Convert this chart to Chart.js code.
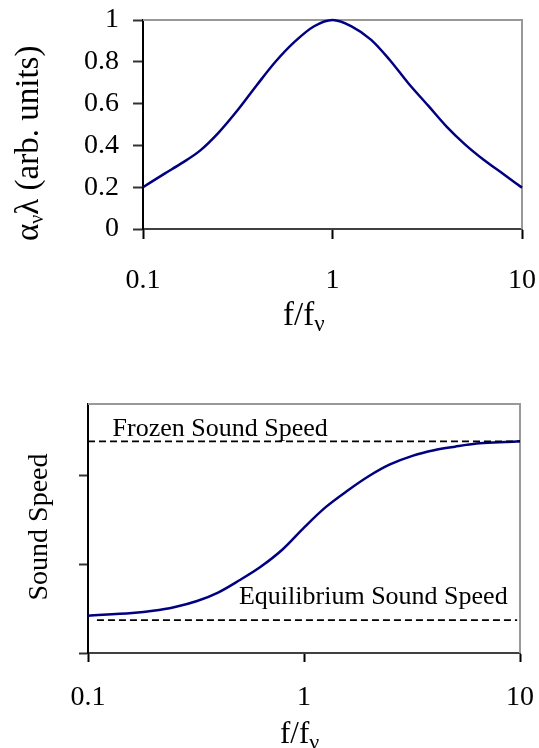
<!DOCTYPE html>
<html><head><meta charset="utf-8">
<script src="https://cdn.jsdelivr.net/npm/chart.js@4/dist/chart.umd.min.js"></script>
<style>
html,body{margin:0;padding:0;background:#fff;width:539px;height:748px;overflow:hidden}
#w1{position:absolute;left:0;top:0;width:539px;height:350px}
#w2{position:absolute;left:0;top:375px;width:539px;height:373px}
</style></head><body>
<div id="w1"><canvas id="c1"></canvas></div>
<div id="w2"><canvas id="c2"></canvas></div>
<script>
// ---- data ----
const xTickValues = [0.1, 1, 10];
const xTickLabels = ['0.1', '1', '10'];
const yTickLabelsTop = ['0', '0.2', '0.4', '0.6', '0.8', '1'];

const fRatioTop = [0.1,0.13,0.16,0.2,0.25,0.32,0.4,0.5,0.63,0.8,1,1.26,1.6,2,2.5,3.2,4,5,6.3,8,10];
const attenuation = [0.20,0.265,0.315,0.375,0.46,0.575,0.69,0.80,0.895,0.97,1.0,0.97,0.905,0.81,0.70,0.59,0.49,0.405,0.33,0.262,0.198];

const fRatioBottom = [0.1,0.16,0.2,0.25,0.32,0.4,0.5,0.63,0.8,1,1.26,1.6,2,2.5,3.2,4,5,6.3,8,10];
const soundSpeed = [0.42,0.45,0.475,0.515,0.585,0.68,0.815,0.97,1.17,1.41,1.64,1.83,1.99,2.12,2.22,2.28,2.32,2.355,2.37,2.38];
const frozenX = [0.1, 10];
const frozenSpeed = [2.38, 2.38];
const equilibriumX = [0.11, 9.7];
const equilibriumSpeed = [0.37, 0.37];
const yTickValuesBottom = [0, 1, 2];

// ---- helpers ----
const FONT = "'Liberation Serif','Times New Roman',serif";
function pts(xs, ys){ return xs.map((x,i)=>({x:x, y:ys[i]})); }
function drawRich(ctx, parts, x, y, size, subRatio, subDrop){
  let cx = x;
  parts.forEach(p=>{
    const s = p.sub ? Math.round(size*subRatio) : size;
    ctx.font = s + 'px ' + FONT;
    ctx.fillText(p.t, cx, y + (p.sub ? subDrop : 0));
    cx += ctx.measureText(p.t).width;
  });
}
function frameBorder(color){
  return {
    id:'frame',
    beforeDatasetsDraw(chart){
      const a = chart.chartArea, c = chart.ctx;
      c.save(); c.strokeStyle = color; c.lineWidth = 2;
      c.beginPath(); c.moveTo(a.left, a.top); c.lineTo(a.right, a.top); c.lineTo(a.right, a.bottom); c.stroke();
      c.restore();
    }
  };
}
function logX(padding, tickLen, h){
  return {
    type:'logarithmic', min:0.1, max:10,
    afterBuildTicks(s){ s.ticks = xTickValues.map(v=>({value:v})); },
    afterFit(s){ s.height = h; s.paddingLeft = 0; s.paddingRight = 0; },
    ticks:{ font:{family:FONT, size:28}, color:'#000', padding:padding, maxRotation:0, autoSkip:false,
      callback:(v,i)=>xTickLabels[i] },
    grid:{ drawOnChartArea:false, drawTicks:true, tickLength:tickLen, tickColor:'#000', tickWidth:2 },
    border:{ display:true, color:'#404040', width:2 }
  };
}

// ---- chart 1 ----
new Chart(document.getElementById('c1'), {
  type:'line',
  data:{ datasets:[{ data: pts(fRatioTop, attenuation), borderColor:'#000080', borderWidth:2.5,
    pointRadius:0, tension:0.4, cubicInterpolationMode:'monotone', fill:false, clip:6 }]},
  options:{
    responsive:true, maintainAspectRatio:false, animation:false,
    layout:{ padding:{ left:0, top:20, right:17, bottom:0 } },
    plugins:{ legend:{display:false}, tooltip:{enabled:false} },
    scales:{
      x: logX(25, 10, 121),
      y: { min:0, max:1,
        afterBuildTicks(s){ s.ticks = yTickLabelsTop.map(t=>({value:parseFloat(t)})); },
        afterFit(s){ s.width = 143; s.paddingTop = 0; s.paddingBottom = 0; },
        ticks:{ font:{family:FONT, size:28}, color:'#000', padding:14, callback:(v,i)=>yTickLabelsTop[i] },
        grid:{ drawOnChartArea:false, drawTicks:true, tickLength:10, tickColor:'#333', tickWidth:2 },
        border:{ display:true, color:'#000', width:2 } }
    }
  },
  plugins:[ frameBorder('#999'), {
    id:'titles1',
    afterDraw(chart){
      const c = chart.ctx; c.save(); c.fillStyle = '#000'; c.textBaseline = 'alphabetic';
      drawRich(c, [{t:'f/f'},{t:'ν',sub:true}], 283, 325, 33, 0.7, 6);
      c.translate(38, 241); c.rotate(-Math.PI/2);
      drawRich(c, [{t:'α'},{t:'ν',sub:true},{t:'λ (arb. units)'}], 0, 0, 33, 0.62, 5);
      c.restore();
    }
  }]
});

// ---- chart 2 ----
new Chart(document.getElementById('c2'), {
  type:'line',
  data:{ datasets:[
    { data: pts(frozenX, frozenSpeed), borderColor:'#000', borderWidth:1.8, borderDash:[7,4], pointRadius:0, fill:false },
    { data: pts(equilibriumX, equilibriumSpeed), borderColor:'#000', borderWidth:1.8, borderDash:[7,4], pointRadius:0, fill:false },
    { data: pts(fRatioBottom, soundSpeed), borderColor:'#000080', borderWidth:2.5,
      pointRadius:0, tension:0.4, cubicInterpolationMode:'monotone', fill:false, clip:6 }
  ]},
  options:{
    responsive:true, maintainAspectRatio:false, animation:false,
    layout:{ padding:{ left:0, top:29, right:19, bottom:0 } },
    plugins:{ legend:{display:false}, tooltip:{enabled:false} },
    scales:{
      x: logX(19, 9, 95),
      y: { min:0, max:2.8,
        afterBuildTicks(s){ s.ticks = yTickValuesBottom.map(v=>({value:v})); },
        afterFit(s){ s.width = 88; s.paddingTop = 0; s.paddingBottom = 0; },
        ticks:{ display:false },
        grid:{ drawOnChartArea:false, drawTicks:true, tickLength:9, tickColor:'#333', tickWidth:2 },
        border:{ display:true, color:'#000', width:2 } }
    }
  },
  plugins:[ frameBorder('#999'), {
    id:'titles2',
    afterDraw(chart){
      const c = chart.ctx, xs = chart.scales.x, ys = chart.scales.y;
      c.save(); c.fillStyle = '#000'; c.textBaseline = 'alphabetic';
      c.font = '26px ' + FONT;
      c.fillText('Frozen Sound Speed', xs.getPixelForValue(0.13), ys.getPixelForValue(frozenSpeed[0]) - 5);
      c.fillText('Equilibrium Sound Speed', xs.getPixelForValue(0.5), ys.getPixelForValue(equilibriumSpeed[0]) - 16);
      drawRich(c, [{t:'f/f'},{t:'ν',sub:true}], 280, 368, 31, 0.7, 6);
      c.translate(47, 152); c.rotate(-Math.PI/2);
      c.font = '28px ' + FONT; c.textAlign = 'center';
      c.fillText('Sound Speed', 0, 0);
      c.restore();
    }
  }]
});
</script>
</body></html>
